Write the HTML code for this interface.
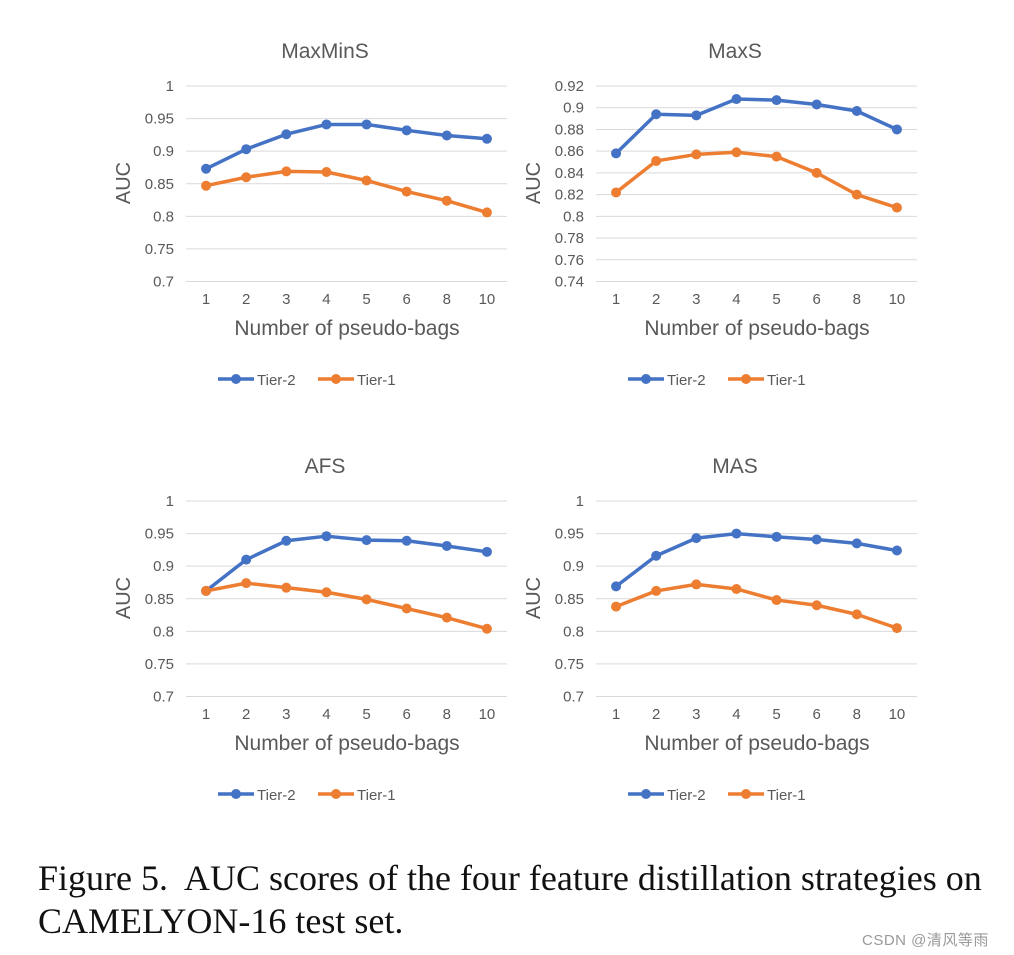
<!DOCTYPE html>
<html><head><meta charset="utf-8"><style>
body{margin:0;background:#fff;width:1014px;height:955px;overflow:hidden;position:relative}
svg{position:absolute;left:0;top:0}
.cap{position:absolute;left:38px;top:857px;font-family:"Liberation Serif",serif;font-size:36px;line-height:43px;color:#111;white-space:nowrap}
.wm{position:absolute;left:862px;top:929px;font-family:"Liberation Sans","Noto Sans CJK SC",sans-serif;font-size:15px;letter-spacing:0.5px;color:#999}
</style></head><body>
<svg id="fig" width="1014" height="955"></svg>
<div class="cap">Figure 5.&nbsp; AUC scores of the four feature distillation strategies on<br>CAMELYON-16 test set.</div>
<div class="wm">CSDN @清风等雨</div>
<script>
const categories=["1","2","3","4","5","6","8","10"];
const maxminsTier2=[.873,.903,.926,.941,.941,.932,.924,.919];
const maxminsTier1=[.847,.860,.869,.868,.855,.838,.824,.806];
const maxsTier2=[.858,.894,.893,.908,.907,.903,.897,.880];
const maxsTier1=[.822,.851,.857,.859,.855,.840,.820,.808];
const afsTier2=[.862,.910,.939,.946,.940,.939,.931,.922];
const afsTier1=[.862,.874,.867,.860,.849,.835,.821,.804];
const masTier2=[.869,.916,.943,.950,.945,.941,.935,.924];
const masTier1=[.838,.862,.872,.865,.848,.840,.826,.805];
const ticksA=["0.7","0.75","0.8","0.85","0.9","0.95","1"];
const ticksB=["0.74","0.76","0.78","0.8","0.82","0.84","0.86","0.88","0.9","0.92"];
const NS="http://www.w3.org/2000/svg";
const svg=document.getElementById('fig');
const F='"Liberation Sans",sans-serif';
function mk(t,a,p){const e=document.createElementNS(NS,t);for(const k in a)e.setAttribute(k,a[k]);(p||svg).appendChild(e);return e;}
function chart(name,title,ticks,t2,t1,ox,oy){
  const g=mk('g',{});
  
  
  const x0=ox+186,x1=ox+507,yTop=oy+86,yBot=oy+281.5;
  const lo=parseFloat(ticks[0]),hi=parseFloat(ticks[ticks.length-1]);
  const ys=v=>yBot-(v-lo)/(hi-lo)*(yBot-yTop);
  const step=(x1-x0)/categories.length;
  const xs=i=>x0+step*(i+0.5);
  const tt=mk('text',{x:ox+325,y:oy+58,'text-anchor':'middle','font-family':F,'font-size':21,fill:'#595959'},g);tt.textContent=title;
  
  ticks.forEach(t=>{const y=ys(parseFloat(t));
    const l=mk('line',{x1:x0,x2:x1,y1:y,y2:y,stroke:'#d9d9d9','stroke-width':1},g);
    
    const tx=mk('text',{x:x0-12,y:y+5,'text-anchor':'end','font-family':F,'font-size':15,fill:'#595959'},g);tx.textContent=t;
    });
  categories.forEach((c,i)=>{const tx=mk('text',{x:xs(i),y:oy+304,'text-anchor':'middle','font-family':F,'font-size':15,fill:'#595959'},g);tx.textContent=c;
    });
  const yt=mk('text',{x:0,y:0,transform:`translate(${ox+130},${oy+183}) rotate(-90)`,'text-anchor':'middle','font-family':F,'font-size':20,fill:'#595959'},g);yt.textContent='AUC';
  
  const xt=mk('text',{x:ox+347,y:oy+335,'text-anchor':'middle','font-family':F,'font-size':21,fill:'#595959'},g);xt.textContent='Number of pseudo-bags';
  
  [[t2,'#4472c4','tier-2'],[t1,'#ed7d31','tier-1']].forEach(([d,col,nm])=>{
    const pl=mk('polyline',{points:d.map((v,i)=>xs(i)+','+ys(v)).join(' '),fill:'none',stroke:col,'stroke-width':3.5,'stroke-linejoin':'round'},g);
    
    d.forEach((v,i)=>{const c=mk('circle',{cx:xs(i),cy:ys(v),r:5,fill:col},g);
      });
  });
  [[ox+218,'#4472c4','Tier-2','tier-2'],[ox+318,'#ed7d31','Tier-1','tier-1']].forEach(([lx,col,lab,nm])=>{
    const lg=mk('g',{},g);
    
    mk('line',{x1:lx,x2:lx+36,y1:oy+379,y2:oy+379,stroke:col,'stroke-width':3.5},lg);
    mk('circle',{cx:lx+18,cy:oy+379,r:5,fill:col},lg);
    const t=mk('text',{x:lx+39,y:oy+385,'font-family':F,'font-size':15,fill:'#595959'},lg);t.textContent=lab;
  });
}
chart('maxmins','MaxMinS',ticksA,maxminsTier2,maxminsTier1,0,0);
chart('maxs','MaxS',ticksB,maxsTier2,maxsTier1,410,0);
chart('afs','AFS',ticksA,afsTier2,afsTier1,0,415);
chart('mas','MAS',ticksA,masTier2,masTier1,410,415);
</script>
</body></html>
